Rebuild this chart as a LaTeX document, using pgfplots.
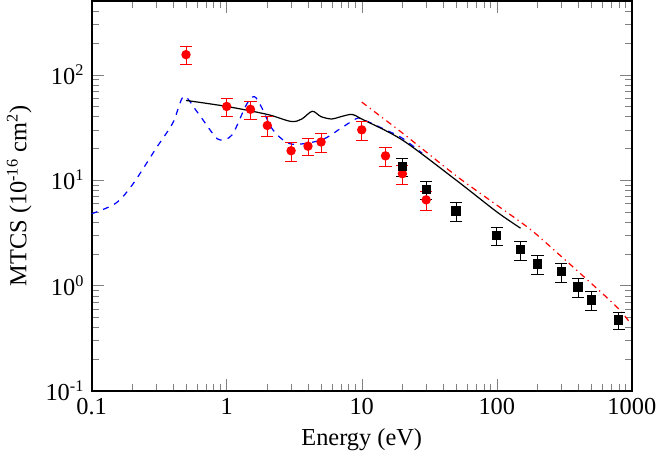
\documentclass[border=0pt]{standalone}
\usepackage{pgfplots}
\pgfplotsset{compat=1.18}
\usepackage{fontspec}
\setmainfont{Liberation Serif}
\begin{document}
\begin{tikzpicture}
\begin{axis}[scale only axis, width=266pt, height=192pt,
  xmode=log, ymode=log, xmin=0.1, xmax=1000, ymin=0.1, ymax=500,
  xtick={0.1,1,10,100,1000}, xticklabels={0.1,1,10,100,1000},
  minor xtick={0.2,0.3,0.4,0.5,0.6,0.7,0.8,0.9,2,3,4,5,6,7,8,9,20,30,40,50,60,70,80,90,200,300,400,500,600,700,800,900},
  minor ytick={0.2,0.3,0.4,0.5,0.6,0.7,0.8,0.9,2,3,4,5,6,7,8,9,20,30,40,50,60,70,80,90,200,300,400,500},
  ytick={0.1,1,10,100}, yticklabels={10\textsuperscript{-1},10\textsuperscript{0},10\textsuperscript{1},10\textsuperscript{2}},
  tick label style={font=\large\rmfamily}, label style={font=\large},
  tick align=inside, xtick pos=both, ytick pos=both,
  major tick length=6pt, minor tick length=3.5pt,
  axis line style={line width=1pt},
  xlabel={Energy (eV)}, ylabel={MTCS (10\textsuperscript{-16} cm\textsuperscript{2})},
  every axis plot/.append style={line width=0.6pt},
  ]
\addplot[blue, dashed, smooth] coordinates {(0.1,4.8)(0.15,6)(0.2,9)(0.3,20)(0.4,35)(0.48,62)(0.6,45)(0.8,27)(0.9,24)(1.1,27)(1.4,52)(1.6,62)(1.8,50)(2.2,30)(3,22)(5,24)(7,31)(9,38)(10,38)(15,30)(20,25)(28,18)};
\addplot[black, smooth] coordinates {(0.5,57)(1,50)(2,42)(3,36)(3.6,38)(4.3,45)(5,40)(6,38)(7,40)(8.5,42)(10,38)(20,24)(50,10)(100,5)(150,3.5)};
\addplot[red, dash dot, smooth] coordinates {(10,55)(20,28)(50,11)(100,5.8)(150,4.0)(200,3.0)(500,1.05)(770,0.63)(950,0.46)};
\addplot[red, only marks, mark=*, mark size=2pt, error bars/.cd, y dir=both, y explicit, error mark options={rotate=90, mark size=3pt}] coordinates {
(0.5,155)+-(0,30)(1,50)+-(0,10)(1.5,47)+-(0,9)(2,33)+-(0,7)(3,19)+-(0,4)(4,21)+-(0,4)(5,23)+-(0,4.5)(10,30)+-(0,6)(15,17)+-(0,3.5)(20,11.5)+-(0,2.3)(30,6.5)+-(0,1.3)};
\addplot[black, only marks, mark=square*, mark size=2pt, error bars/.cd, y dir=both, y explicit, error mark options={rotate=90, mark size=3pt}] coordinates {
(20,13.5)+-(0,2.7)(30,8.2)+-(0,1.6)(50,5.1)+-(0,1)(100,3.0)+-(0,0.6)(150,2.2)+-(0,0.45)(200,1.6)+-(0,0.32)(300,1.35)+-(0,0.27)(400,0.97)+-(0,0.19)(500,0.73)+-(0,0.15)(800,0.47)+-(0,0.09)};
\end{axis}
\end{tikzpicture}
\end{document}
